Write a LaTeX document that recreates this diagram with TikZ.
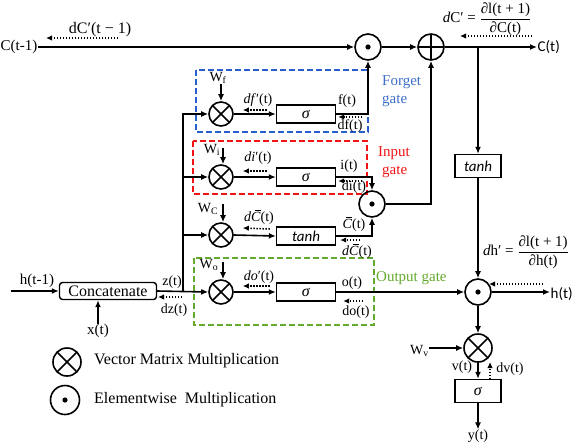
\documentclass[tikz,border=0pt]{standalone}
\usepackage{amsmath}
\usepackage{fontspec}
\setmainfont{Liberation Serif}
\newfontfamily\carl{Carlito}
\usetikzlibrary{arrows.meta}
\definecolor{gblue}{RGB}{40,95,205}
\definecolor{tblue}{RGB}{60,110,200}
\definecolor{gred}{RGB}{240,20,20}
\definecolor{ggreen}{RGB}{100,170,45}
\newcommand{\Cbar}{\rlap{\hspace{0.25em}\rule[0.76em]{0.42em}{0.055em}}\textit{C}}
\newcommand{\sgm}{\textit{σ}}
\begin{document}
\begin{tikzpicture}[x=1pt,y=-1pt,font=\fontsize{14}{16}\selectfont,
 lw/.style={line width=1.6pt},
 fl/.style={line width=1.6pt,-{Latex[length=7pt,width=6pt]}},
 bk/.style={line width=1.5pt,dash pattern=on 1.5pt off 1.5pt,-{Latex[length=6pt,width=5.5pt]}},
 otm/.style={circle,draw,line width=1.6pt,minimum size=24pt,inner sep=0pt,
   path picture={\draw[line width=1.6pt] (path picture bounding box.north east)--(path picture bounding box.south west) (path picture bounding box.north west)--(path picture bounding box.south east);}},
 odt/.style={circle,draw,line width=1.6pt,minimum size=26pt,inner sep=0pt,
   path picture={\fill (path picture bounding box.center) circle (2.6pt);}},
 opl/.style={circle,draw,line width=1.6pt,minimum size=26pt,inner sep=0pt,
   path picture={\draw[line width=1.6pt] (path picture bounding box.north)--(path picture bounding box.south) (path picture bounding box.west)--(path picture bounding box.east);}},
 bx/.style={draw,line width=1.4pt,minimum width=59pt,minimum height=18pt,inner sep=0pt,font=\fontsize{16}{16}\selectfont},
 bxr/.style={draw,line width=1.4pt,minimum width=46pt,minimum height=23pt,inner sep=0pt,font=\fontsize{16}{16}\selectfont},
 gbox/.style={line width=1.6pt,dash pattern=on 6pt off 3pt},
 lab/.style={inner sep=0pt},
 gtext/.style={anchor=west,inner sep=0pt,font=\fontsize{15}{17}\selectfont},
 frac/.style={inner sep=0pt,font=\fontsize{15}{17}\selectfont},
]
\useasboundingbox (0,0) rectangle (575,445);

% dashed gate boxes
\draw[gbox,gblue] (196,70) rectangle (368,132);
\draw[gbox,gred] (193,141) rectangle (367,194);
\draw[gbox,ggreen] (194,258) rectangle (374,325);
\node[gtext,tblue] at (382,82) {Forget};
\node[gtext,tblue] at (382,101) {gate};
\node[gtext,gred] at (378,153) {Input};
\node[gtext,gred] at (382,172) {gate};
\node[gtext,ggreen] at (376,278) {Output gate};

% operator nodes
\node[otm] (mf) at (221,114) {};
\node[otm] (mi) at (221,177) {};
\node[otm] (mc) at (221,235) {};
\node[otm] (mo) at (221,292) {};
\node[bx] (sf) at (306,114) {\sgm};
\node[bx] (si) at (306,177) {\sgm};
\node[bx,font=\carl\itshape\fontsize{15}{16}\selectfont] (tc) at (306,236) {tanh};
\node[bx] (so) at (306,292) {\sgm};
\node[odt] (pf) at (368,47) {};
\node[opl] (ad) at (431,47) {};
\node[odt] (pi) at (372,204) {};
\node[bxr,font=\carl\itshape\fontsize{15}{16}\selectfont] (th) at (478,166) {tanh};
\node[odt] (ph) at (478,292) {};
\node[otm,minimum size=28pt] (mv) at (478,348) {};
\node[bxr] (sy) at (478,391) {\sgm};
\node[draw,line width=1.4pt,rounded corners=3pt,minimum width=97pt,minimum height=17pt,inner sep=0pt,font=\fontsize{16}{17}\selectfont] (cat) at (108,291) {Concatenate};

% top cell-state line
\node[anchor=east,inner sep=0.5pt,font=\fontsize{15}{16}\selectfont] (ctm) at (38,47) {C(t-1)};
\draw[fl] (ctm.east) -- (pf.west);
\draw[fl] (pf.east) -- (ad.west);
\node[anchor=west,inner sep=0.5pt,font=\carl\fontsize{15}{16}\selectfont] (ct) at (537,47) {C(t)};
\draw[fl] (ad.east) -- (ct.west);
\node[lab,font=\fontsize{16}{17}\selectfont] (dctm) at (100,30) {dC′(t − 1)};
\coordinate (dca1) at (118,38);
\coordinate (dca2) at (46,38);
\draw[bk] (dca1) -- (dca2);
\node[frac] (dcl) at (487,19) {\textit{d}C′ = $\dfrac{\text{∂l(t + 1)}}{\text{∂C(t)}}$};
\coordinate (dcb1) at (532,36);
\coordinate (dcb2) at (460,36);
\draw[bk] (dcb1) -- (dcb2);

% right column
\coordinate (j1) at (478,47);
\draw[fl] (j1) -- (th.north);
\draw[fl] (th.south) -- (ph.north);
\node[frac] (dhl) at (526,252) {\textit{d}h′ = $\dfrac{\text{∂l(t + 1)}}{\text{∂h(t)}}$};
\coordinate (dh1) at (543,284);
\coordinate (dh2) at (489,284);
\draw[bk] (dh1) -- (dh2);
\node[anchor=west,inner sep=0.5pt,font=\carl\fontsize{15}{16}\selectfont] (ht) at (550,294) {h(t)};
\draw[fl] (ph.east) -- (ph.east -| ht.west);
\draw[fl] (ph.south) -- (mv.north);
\node[anchor=east,lab] (wv) at (429,351) {W\textsubscript{v}};
\draw[fl] (wv.east |- mv.west) -- (mv.west);
\draw[fl] (mv.south) -- (sy.north);
\node[lab] (vt) at (462,367) {v(t)};
\coordinate (dv1) at (490,379);
\coordinate (dv2) at (490,362);
\draw[bk] (dv1) -- (dv2);
\node[lab] (dvt) at (510,369) {dv(t)};
\node[lab] (yt) at (478,436) {y(t)};
\draw[fl] (sy.south) -- (yt.north);

% input side
\node[lab,font=\fontsize{15}{16}\selectfont] (hin) at (37,281) {h(t-1)};
\coordinate (h0) at (11,291);
\draw[fl] (h0) -- (cat.west);
\node[lab,font=\fontsize{15}{16}\selectfont] (xt) at (98,331) {x(t)};
\draw[fl] (xt.north) -- (xt.north |- cat.south);
\node[lab] (zt) at (172,282) {z(t)};
\node[lab] (dzt) at (174,310) {dz(t)};
\coordinate (dz1) at (182,297);
\coordinate (dz2) at (158,297);
\draw[bk] (dz1) -- (dz2);
\draw[fl] (cat.east) -- (mo.west);
\coordinate (tr) at (183,291);
\draw[fl] (tr) |- (mf.west);
\draw[fl] (tr |- mi.west) -- (mi.west);
\draw[fl] (tr |- mc.west) -- (mc.west);

% weights
\node[lab] (wf) at (218,78) {W\textsubscript{f}};
\draw[fl] (mf.north |- wf.south) -- (mf.north);
\node[lab] (wi) at (212,150) {W\textsubscript{i}};
\draw[fl] ([xshift=2pt,yshift=16pt]mi.north) -- ([xshift=2pt]mi.north);
\node[lab] (wc) at (208,209) {W\textsubscript{C}};
\draw[fl] ([xshift=2pt,yshift=18pt]mc.north) -- ([xshift=2pt]mc.north);
\node[lab] (wo) at (209,265) {W\textsubscript{o}};
\draw[fl] ([xshift=2pt,yshift=17pt]mo.north) -- ([xshift=2pt]mo.north);

% otimes -> boxes
\draw[fl] (mf.east) -- (sf.west);
\draw[fl] (mi.east) -- (si.west);
\draw[fl] (mc.east) -- (tc.west);
\draw[fl] (mo.east) -- (so.west);
\draw[bk] ([xshift=-9pt,yshift=4pt]sf.west) -- ([xshift=9pt,yshift=4pt]mf.east);
\draw[bk] ([xshift=-9pt,yshift=6pt]si.west) -- ([xshift=9pt,yshift=6pt]mi.east);
\draw[bk] ([xshift=-6pt,yshift=7pt]tc.west) -- ([xshift=9pt,yshift=7pt]mc.east);
\draw[bk] ([xshift=-6pt,yshift=6pt]so.west) -- ([xshift=9pt,yshift=6pt]mo.east);
\node[lab] (dfp) at (258,100) {\textit{df}′(t)};
\node[lab] (dip) at (258,158) {\textit{di}′(t)};
\node[lab] (dcp) at (259,217) {\textit{d}\Cbar(t)};
\node[lab] (dop) at (259,277) {\textit{do}′(t)};

% box outputs
\draw[fl] (sf.east) -| (pf.south);
\draw[fl] (si.east) -| (pi.north);
\draw[fl] (tc.east) -| (pi.south);
\draw[fl] (pi.east) -| (ad.south);
\draw[fl] (so.east) -- (ph.west);
\draw[bk] ([xshift=26pt,yshift=-3pt]sf.east) -- ([xshift=2pt,yshift=-3pt]sf.east);
\draw[bk] ([xshift=26pt,yshift=-4pt]si.east) -- ([xshift=2pt,yshift=-4pt]si.east);
\draw[bk] ([xshift=24pt,yshift=-4pt]tc.east) -- ([xshift=4pt,yshift=-4pt]tc.east);
\draw[bk] ([xshift=27pt,yshift=-9pt]so.east) -- ([xshift=7pt,yshift=-9pt]so.east);
\node[lab] (ftl) at (347,101) {f(t)};
\node[lab] (dftl) at (350,126) {df(t)};
\node[lab] (itl) at (349,166) {i(t)};
\node[lab] (ditl) at (354,187) {di(t)};
\node[lab] (ctl) at (354,224) {\Cbar(t)};
\node[lab] (dctl) at (357,251) {\textit{d}\Cbar(t)};
\node[lab] (otl) at (352,283) {o(t)};
\node[lab] (dotl) at (356,312) {do(t)};

% legend
\node[otm,minimum size=28pt] (lg1) at (67,362) {};
\node[odt,minimum size=29pt] (lg2) at (65,400) {};
\node[anchor=west,inner sep=0pt,font=\fontsize{16}{18}\selectfont] (lt1) at (94,361) {Vector Matrix Multiplication};
\node[anchor=west,inner sep=0pt,font=\fontsize{16}{18}\selectfont] (lt2) at (94,400) {Elementwise\hspace{0.5em}Multiplication};
\end{tikzpicture}
\end{document}
